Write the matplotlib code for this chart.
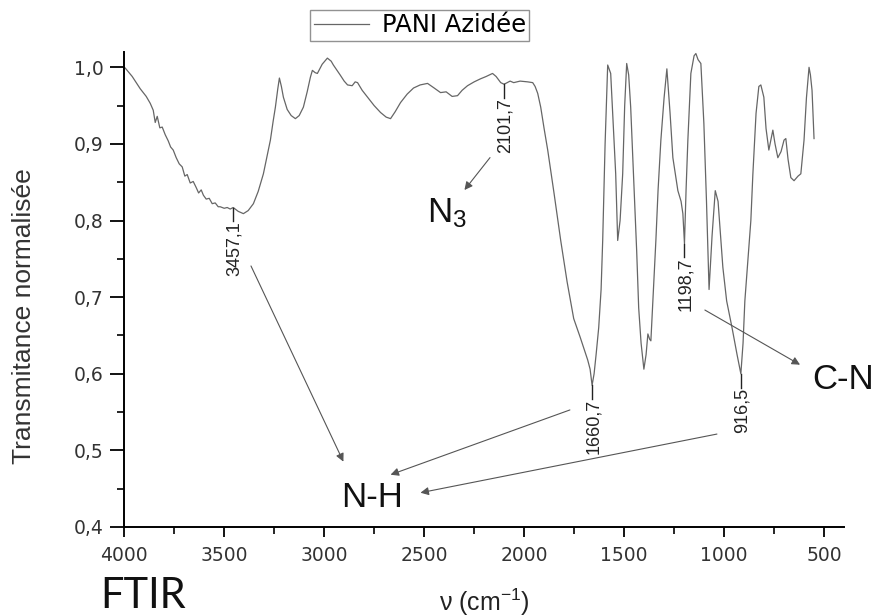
import matplotlib
matplotlib.use('Agg')
import matplotlib.pyplot as plt
import numpy as np

plt.rcParams['font.family'] = ['Liberation Sans', 'DejaVu Sans']
plt.rcParams['mathtext.fontset'] = 'custom'
plt.rcParams['mathtext.rm'] = 'Liberation Sans'

# FTIR spectrum, PANI Azidee (wavenumber cm-1, normalised transmittance)
wavenumber = [4000, 3995, 3960, 3920, 3890, 3870, 3855, 3845, 3835, 3822, 3810, 3795,
              3780, 3768, 3755, 3740, 3725, 3710, 3697, 3685, 3670, 3655, 3640, 3628,
              3615, 3604, 3590, 3575, 3560, 3545, 3530, 3520, 3500, 3485, 3470, 3455,
              3430, 3404, 3380, 3354, 3330, 3304, 3285, 3269, 3255, 3244, 3232, 3224,
              3214, 3204, 3185, 3165, 3144, 3125, 3104, 3085, 3069, 3059, 3045, 3034,
              3010, 2984, 2965, 2954, 2920, 2900, 2883, 2860, 2845, 2833, 2810, 2783,
              2750, 2718, 2690, 2668, 2645, 2618, 2585, 2553, 2520, 2483, 2450, 2418,
              2390, 2360, 2333, 2310, 2283, 2250, 2218, 2190, 2158, 2140, 2117, 2101,
              2092, 2070, 2052, 2020, 1982, 1957, 1945, 1932, 1917, 1900, 1882, 1850,
              1817, 1785, 1752, 1720, 1700, 1682, 1670, 1660, 1650, 1640, 1627, 1615,
              1607, 1595, 1582, 1567, 1555, 1542, 1532, 1520, 1507, 1497, 1487, 1477,
              1467, 1447, 1437, 1427, 1415, 1401, 1390, 1381, 1372, 1366, 1355, 1341,
              1330, 1316, 1300, 1286, 1270, 1256, 1240, 1231, 1215, 1206, 1198, 1190,
              1181, 1166, 1150, 1141, 1130, 1116, 1101, 1088, 1075, 1060, 1044, 1030,
              1006, 987, 960, 935, 916, 905, 896, 880, 866, 856, 840, 826,
              816, 801, 790, 776, 766, 756, 745, 731, 715, 700, 691, 680,
              666, 650, 630, 616, 600, 588, 575, 568, 560, 550]
transmittance = [1.000, 0.999, 0.988, 0.972, 0.962, 0.953, 0.944, 0.928, 0.936, 0.921, 0.922, 0.912,
                 0.904, 0.896, 0.892, 0.882, 0.874, 0.870, 0.858, 0.860, 0.849, 0.851, 0.843, 0.836,
                 0.840, 0.833, 0.828, 0.829, 0.822, 0.823, 0.818, 0.818, 0.816, 0.817, 0.815, 0.817,
                 0.812, 0.809, 0.813, 0.822, 0.838, 0.861, 0.885, 0.905, 0.930, 0.948, 0.972, 0.986,
                 0.975, 0.961, 0.945, 0.937, 0.933, 0.937, 0.948, 0.968, 0.987, 0.996, 0.993, 0.992,
                 1.004, 1.012, 1.008, 1.003, 0.990, 0.982, 0.977, 0.976, 0.981, 0.980, 0.970, 0.961,
                 0.950, 0.941, 0.935, 0.933, 0.942, 0.954, 0.965, 0.973, 0.977, 0.979, 0.973, 0.967,
                 0.968, 0.962, 0.963, 0.970, 0.976, 0.981, 0.985, 0.988, 0.992, 0.988, 0.980, 0.978,
                 0.979, 0.982, 0.980, 0.982, 0.981, 0.980, 0.975, 0.966, 0.948, 0.920, 0.892, 0.835,
                 0.774, 0.720, 0.672, 0.648, 0.632, 0.618, 0.606, 0.585, 0.600, 0.625, 0.660, 0.710,
                 0.774, 0.900, 1.003, 0.992, 0.930, 0.861, 0.774, 0.800, 0.861, 0.950, 1.005, 0.990,
                 0.948, 0.822, 0.760, 0.686, 0.640, 0.606, 0.625, 0.652, 0.645, 0.643, 0.700, 0.774,
                 0.840, 0.905, 0.960, 0.998, 0.940, 0.882, 0.855, 0.839, 0.825, 0.809, 0.770, 0.840,
                 0.905, 0.992, 1.015, 1.018, 1.010, 1.005, 0.927, 0.826, 0.710, 0.780, 0.839, 0.825,
                 0.739, 0.695, 0.660, 0.625, 0.600, 0.640, 0.695, 0.750, 0.800, 0.860, 0.940, 0.975,
                 0.977, 0.961, 0.920, 0.892, 0.905, 0.918, 0.900, 0.882, 0.890, 0.905, 0.907, 0.880,
                 0.856, 0.852, 0.858, 0.861, 0.905, 0.960, 1.000, 0.990, 0.970, 0.907]

# labelled bands
peak_labels = ['3457,1', '2101,7', '1660,7', '1198,7', '916,5']
peak_wn = [3457.1, 2101.7, 1660.7, 1198.7, 916.5]
peak_T = [0.817, 0.978, 0.585, 0.770, 0.600]

xticks = [4000, 3500, 3000, 2500, 2000, 1500, 1000, 500]
xtick_labels = ['4000', '3500', '3000', '2500', '2000', '1500', '1000', '500']
yticks = [0.4, 0.5, 0.6, 0.7, 0.8, 0.9, 1.0]
ytick_labels = ['0,4', '0,5', '0,6', '0,7', '0,8', '0,9', '1,0']

fig = plt.figure(figsize=(8.78, 6.16), dpi=100)
ax = fig.add_axes([0.1415, 0.1445, 0.8198, 0.7711])

ax.plot(wavenumber, transmittance, color='#666666', linewidth=0.9, label='PANI Azidée')

ax.set_xlim(4000, 400)
ax.set_ylim(0.4, 1.02)
ax.set_xticks(xticks)
ax.set_xticklabels(xtick_labels, fontsize=13.5, color='#333333', family='DejaVu Sans')
ax.set_yticks(yticks)
ax.set_yticklabels(ytick_labels, fontsize=13.5, color='#333333', family='DejaVu Sans')
ax.set_xticks(np.arange(4000, 399, -250), minor=True)
ax.set_yticks(np.arange(0.4, 1.01, 0.05), minor=True)
ax.tick_params(axis='x', which='major', direction='out', length=7, width=1.3, pad=7)
ax.tick_params(axis='y', which='major', direction='out', length=10, width=1.3, pad=5)
ax.tick_params(which='minor', direction='out', length=5, width=1.2)
for side in ['top', 'right']:
    ax.spines[side].set_visible(False)
for side in ['left', 'bottom']:
    ax.spines[side].set_linewidth(1.4)

# peak labels with short leader
for lab, xw, yt in zip(peak_labels, peak_wn, peak_T):
    ax.plot([xw, xw], [yt, yt - 0.018], color='#222222', linewidth=1.0)
    ax.text(xw - 8, yt - 0.018, lab, rotation=90, ha='center', va='top',
            fontsize=13, color='#222222')

arrow = dict(arrowstyle='-|>', color='#555555', lw=0.8, mutation_scale=12)
ax.annotate('', xy=(2898, 0.482), xytext=(3372, 0.744), arrowprops=arrow)
ax.annotate('', xy=(2681, 0.467), xytext=(1758, 0.554), arrowprops=arrow)
ax.annotate('', xy=(2532, 0.444), xytext=(1022, 0.522), arrowprops=arrow)
ax.annotate('', xy=(2307, 0.837), xytext=(2162, 0.885), arrowprops=arrow)
ax.annotate('', xy=(608, 0.610), xytext=(1108, 0.685), arrowprops=arrow)

ax.text(2762, 0.438, 'N-H', fontsize=25, ha='center', va='center', color='#111111')
ax.text(2388, 0.809, r'$\mathregular{N_3}$', fontsize=25, ha='center', va='center', color='#111111')
ax.text(406, 0.593, 'C-N', fontsize=25, ha='center', va='center', color='#111111')

leg = ax.legend(loc='center', bbox_to_anchor=(0.478, 0.959), bbox_transform=fig.transFigure,
                prop={'family': 'DejaVu Sans', 'size': 17.5}, frameon=True, fancybox=False,
                handlelength=2.3, borderpad=0.15, handletextpad=0.5)
leg.get_frame().set_edgecolor('#777777')
leg.get_frame().set_linewidth(1.0)

fig.text(24 / 878, 1 - 316 / 616, 'Transmitance normalisée', rotation=90,
         ha='center', va='center', fontsize=19, color='#333333')
fig.text(484 / 878, 1 - 602 / 616, r'ν (cm$^{\mathregular{-1}}$)', ha='center', va='center',
         fontsize=18, color='#222222')
fig.text(100 / 878, 0.002, 'FTIR', ha='left', va='bottom', fontsize=30,
         family='Lato', color='#111111')

fig.savefig('out.png', dpi=100)
